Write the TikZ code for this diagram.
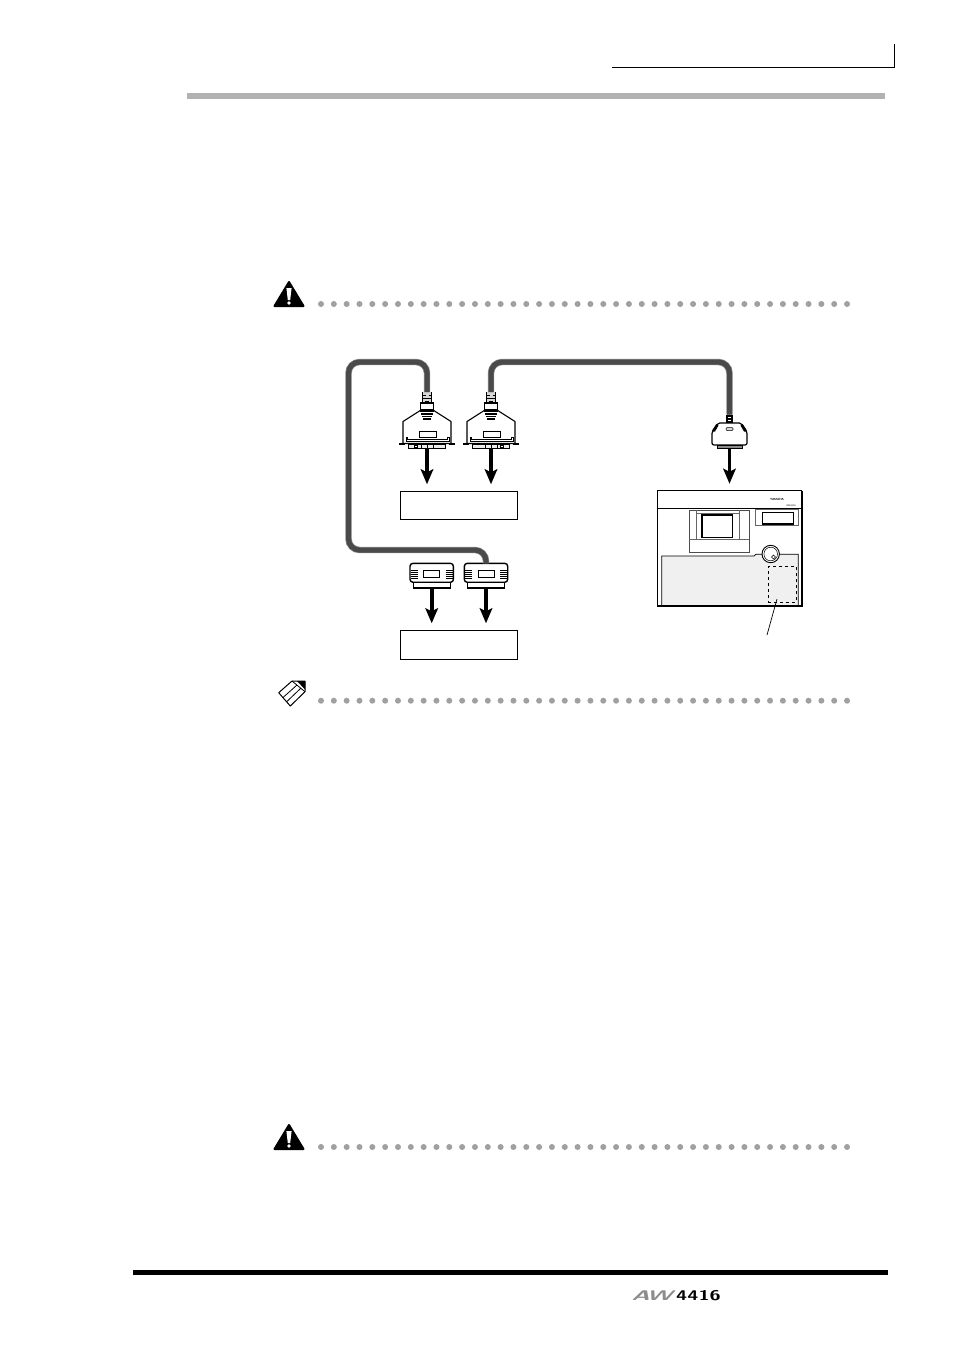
\documentclass[tikz,border=0pt]{standalone}
\usepackage{xcolor}
\usetikzlibrary{positioning,arrows.meta}
\definecolor{cablegray}{RGB}{74,74,74}
\definecolor{cableedge}{RGB}{135,135,135}
\definecolor{dotgray}{RGB}{160,160,160}
\definecolor{bargray}{RGB}{178,178,178}
\definecolor{panelgray}{RGB}{240,240,240}
\tikzset{
  unitbox/.style  = {draw, line width=1pt, inner sep=0pt, outer sep=0pt, minimum width=117pt, minimum height=28pt},
  flow/.style     = {-{Stealth[length=15pt,width=12.5pt,inset=3pt]}, line width=3.8pt, shorten >=7pt},
  cable/.style    = {line width=5pt, draw=cablegray, rounded corners=11pt, preaction={draw=cableedge, line width=6.4pt}},
  pics/dsub/.style = {code={
    \fill[black!15] (-4.5,0) rectangle (4.5,11);
    \draw[line width=1pt] (-4.5,11) -- (-4.5,0) (4.5,0) -- (4.5,11);
    \draw[line width=1pt] (-4.5,3.5) -- (-1.5,3.5) (1.5,3.5) -- (4.5,3.5) (-4.5,6.5) -- (4.5,6.5) (-2,9) -- (2,9);
    \draw[line width=1.2pt, fill=white] (-6.7,11) rectangle (6.7,17.5);
    \draw[fill=white, line width=1.1pt, line join=round] (-6,18) -- (-24,29.5) -- (-24,51.5) -- (24,51.5) -- (24,29.5) -- (6,18) -- cycle;
    \fill (-7,18.2) rectangle (7,19.8);
    \fill (-6,21) rectangle (6,22.6);
    \fill (-5,23.8) rectangle (5,25.4);
    \fill (-4,26.4) rectangle (4,28.4);
    \draw[line width=.9pt] (-7.5,39.5) rectangle (9,45.2);
    \draw[line width=.9pt] (-21,45.2) -- (-21,49.5) -- (22,49.5) -- (22,45.2) -- (20.5,45.2) -- (20.5,47.8) -- (-19.5,47.8) -- (-19.5,45.2) -- cycle;
    \draw[fill=black!8, line width=.9pt] (-18.3,52) rectangle (18.3,56.5);
    \foreach \tick in {-6,0,6} \draw[line width=.9pt] (\tick,52) -- (\tick,56.5);
    \draw[fill=white, line width=.7pt] (#1-1.2,53) rectangle (#1+1.2,55.2);
    \draw[line width=1.6pt] (-27.7,52) -- (-22,52) (22,52) -- (28,52);
    \coordinate (-top) at (0,0);
    \coordinate (-bottom) at (0,56.5);
  }},
  pics/dplug/.style = {code={
    \draw[fill=white, line width=1.4pt, rounded corners=3pt] (-21.7,0) rectangle (21.7,19);
    \draw[fill=white, line width=1.4pt] (-18.5,19) rectangle (18.5,24.5);
    \draw[fill=white, line width=.9pt] (-8,6.7) rectangle (8,14.3);
    \foreach \rib in {7,9,11,13,15}
      \draw[line width=1.1pt] (-20.8,\rib) -- (-14,\rib) (14,\rib) -- (20.8,\rib);
    \coordinate (-top) at (0,0);
    \coordinate (-bottom) at (0,24.5);
  }},
  pics/hdplug/.style = {code={
    \fill[black] (-3.5,0) rectangle (3.5,8.5);
    \draw[white, line width=.7pt] (-1.5,3.2) -- (1.5,3.2) (-1.5,5.6) -- (1.5,5.6);
    \draw[fill=white, line width=1.2pt, rounded corners=2pt] (-11.7,8.5) -- (11.7,8.5) -- (17.5,17) -- (17.5,30.5) -- (-17.5,30.5) -- (-17.5,17) -- cycle;
    \fill (-17.5,17) -- (-13,9.5) -- (-11,11) -- (-14.5,17) -- cycle;
    \fill (17.5,17) -- (13,9.5) -- (11,11) -- (14.5,17) -- cycle;
    \draw[fill=black!15, line width=.5pt, rounded corners=1pt] (-3.5,13) rectangle (3.5,16);
    \draw[fill=black!45, line width=.8pt] (-12.5,30.5) rectangle (12.5,33.5);
    \coordinate (-top) at (0,0);
    \coordinate (-bottom) at (0,33.5);
  }},
  pics/dotrow/.style = {code={
    \foreach \n in {0,...,41} \fill[dotgray] (\n*12.83,0) circle (3pt);
  }},
  pics/warnicon/.style = {code={
    \fill[line join=round, draw, line width=2pt] (0,1) -- (-14.5,25) -- (14.5,25) -- cycle;
    \fill[white] (-2.6,7) -- (2.6,7) -- (1.2,19) -- (-1.2,19) -- cycle;
    \fill[white] (0,22) circle (1.8pt);
  }},
}

\begin{document}
\begin{tikzpicture}[x=1pt,y=-1pt]
  \useasboundingbox (0,0) rectangle (954,1350);
  % page furniture
  \draw[line width=1pt] (612,67) -- (894,67) -- (894,44);
  \fill[bargray] (187,93) rectangle (885,99);
  \fill (133,1270) rectangle (888,1275);
  \node[font=\sffamily\bfseries\fontsize{14}{14}\selectfont, text=black!45, inner sep=0pt, xscale=1.75, xslant=.25, transform shape] (logoaw) at (654,1295.5) {AW};
  \node[font=\sffamily\bfseries\fontsize{14}{14}\selectfont, inner sep=0pt, xscale=1.45, transform shape] (logonum) at (698.5,1295.5) {4416};

  % notes
  \pic at (289,281) {warnicon};
  \pic at (321,304) {dotrow};
  \pic at (321,700.7) {dotrow};
  \pic at (289,1124) {warnicon};
  \pic at (321,1147) {dotrow};
  \draw[line width=1pt, fill=white, line join=round] (292,681) -- (278.7,692.7) -- (290.3,706) -- (305,691.7) -- (305,681) -- cycle;
  \draw[line width=.8pt] (283,697.5) -- (297,685) (286.7,701.7) -- (300.5,688.5) (292,681) -- (305,691.7);
  \fill (297,681) -- (305,681) -- (305,689.5) -- cycle;

  % receiving units
  \node[unitbox, anchor=north west] (unita) at (400.3,491.3) {};
  \node[unitbox, below=111pt of unita, minimum height=29pt] (unitb) {};

  % connectors
  \pic (dsuba) at (427,392) {dsub=-11};
  \pic (dsubb) at (491,392) {dsub=11};
  \pic (dplga) at (431.7,563.3) {dplug};
  \pic (dplgb) at (486,563.3) {dplug};
  \pic (hdplg) at (729.5,414.5) {hdplug};

  % recorder
  \node[draw, line width=1.5pt, inner sep=0pt, outer sep=0pt, minimum width=144.4pt, minimum height=115pt, anchor=north west] (recorder) at (657.3,490.7) {};
  \draw[line width=1.2pt] (657.3,508.3) -- (801.7,508.3);
  \draw[fill=panelgray, line width=.8pt] (661.7,605.7) -- (661.7,556) -- (754,556) -- (756,554.2) -- (798.3,554.2) -- (798.3,605.7);
  \draw[line width=2pt] (657.3,605.7) -- (801.7,605.7) -- (801.7,490.7);
  \draw[line width=.9pt, draw=black!70] (689,510) rectangle (749,552.7);
  \draw[line width=.5pt, draw=black!60] (696,510) -- (696,539) (739.3,510) -- (739.3,539) (689,539) -- (749,539) (696,513) -- (739.3,513);
  \draw[line width=1.2pt] (702,515) rectangle (732.3,537.7);
  \draw[line width=.5pt, draw=black!60] (755,509.3) rectangle (798.3,525);
  \draw[line width=1.2pt] (762.3,512.3) rectangle (793.7,524);
  \draw[fill=white, line width=.9pt] (770.7,554) circle (8.7pt);
  \draw[line width=.5pt] (770.7,554) circle (6.8pt);
  \draw[line width=.6pt, fill=white] (773.5,555) -- (775.5,557) -- (773.5,559) -- (771.5,557) -- cycle;
  \node[font=\sffamily\bfseries\fontsize{3}{3}\selectfont, inner sep=0pt] (brand) at (777,499.5) {YAMAHA};
  \node[font=\sffamily\fontsize{2.5}{3}\selectfont, inner sep=0pt] (model) at (791,505.5) {AW4416};
  \node[draw, dashed, line width=.9pt, inner sep=0pt, minimum width=27.7pt, minimum height=36.3pt, anchor=north west] (slot) at (768,566) {};
  \coordinate (leadtop) at (777,599);
  \coordinate (leadend) at (767,635);
  \draw[line width=.7pt] (leadtop) -- (leadend);

  % cables
  \coordinate (cornernw) at (348.5,362);
  \coordinate (cornersw) at (348.5,550);
  \coordinate (cornerne) at (729.5,362);
  \draw[cable] (dsuba-top) |- (cornernw) -- (cornersw) -| (dplgb-top);
  \draw[cable] (dsubb-top) |- (cornerne) -- (hdplg-top);

  \draw[flow] (dsuba-bottom) -- (dsuba-bottom |- unita.north);
  \draw[flow] (dsubb-bottom) -- (dsubb-bottom |- unita.north);
  \draw[flow] (dplga-bottom) -- (dplga-bottom |- unitb.north);
  \draw[flow] (dplgb-bottom) -- (dplgb-bottom |- unitb.north);
  \draw[flow] (hdplg-bottom) -- (hdplg-bottom |- recorder.north);
\end{tikzpicture}
\end{document}
